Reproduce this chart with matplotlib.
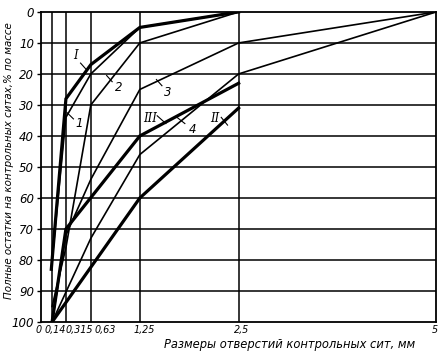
import matplotlib
matplotlib.use('Agg')
import matplotlib.pyplot as plt
from matplotlib.transforms import offset_copy

# размеры сит, мм
sieves = [0, 0.14, 0.315, 0.63, 1.25, 2.5, 5]
sieve_labels = ['0', '0,14', '0,315', '0,63', '1,25', '2,5', '5']

# кривые просеивания (полные остатки, %)
curve_I_x = [0.13, 0.315, 0.63, 1.25, 2.5]
curve_I_y = [83, 28, 17, 5, 0]
curve_II_x = [0.14, 1.25, 2.5]
curve_II_y = [100, 60, 31]
curve_III_x = [0.14, 0.315, 1.25, 2.5]
curve_III_y = [100, 70, 40, 23]

curve_1_x = [0.14, 0.315, 0.63, 1.25, 2.5]
curve_1_y = [80, 34, 20, 5, 0]
curve_2_x = [0.14, 0.315, 0.63, 1.25, 2.5]
curve_2_y = [95, 76, 30, 10, 0]
curve_3_x = [0.14, 0.315, 0.63, 1.25, 2.5, 5]
curve_3_y = [100, 72, 54, 25, 10, 0]
curve_4_x = [0.14, 0.63, 1.25, 2.5, 5]
curve_4_y = [100, 73, 46, 20, 0]

# подписи кривых: текст, положение текста, конец выноски
labels = ['I', '1', '2', '3', 'III', '4', 'II']
label_xy = [(0.44, 14), (0.48, 36), (0.98, 24.5), (1.6, 26), (1.38, 34.5), (1.92, 38), (2.2, 34.5)]
leader_from = [(0.50, 16.5), (0.41, 34.5), (0.90, 22.5), (1.53, 23.8), (1.47, 33.5), (1.82, 36), (2.28, 34)]
leader_to = [(0.57, 18.5), (0.33, 32.5), (0.83, 20.5), (1.46, 21.8), (1.58, 36), (1.72, 34), (2.36, 36.5)]

# сдвиг подписей сит (точки), как на рисунке
label_shift = [-1.5, 2, 9.5, 10.5, 3.5, 2, -1]

fig = plt.figure(figsize=(4.46, 3.56), dpi=100)
ax = fig.add_axes([0.092, 0.0955, 0.886, 0.871])

for x in sieves[1:-1]:
    ax.axvline(x, color='black', lw=1.1, zorder=1)
for y in range(10, 100, 10):
    ax.axhline(y, color='black', lw=1.1, zorder=1)

heavy = dict(color='black', lw=2.3, zorder=3, solid_joinstyle='miter')
thin = dict(color='black', lw=1.2, zorder=3)
ax.plot(curve_I_x, curve_I_y, **heavy)
ax.plot(curve_II_x, curve_II_y, **heavy)
ax.plot(curve_III_x, curve_III_y, **heavy)
ax.plot(curve_1_x, curve_1_y, **thin)
ax.plot(curve_2_x, curve_2_y, **thin)
ax.plot(curve_3_x, curve_3_y, **thin)
ax.plot(curve_4_x, curve_4_y, **thin)

for t, p, a, b in zip(labels, label_xy, leader_from, leader_to):
    fam = ['DejaVu Serif'] if 'I' in t else ['DejaVu Sans']
    ax.text(p[0], p[1], t, ha='center', va='center', fontsize=8.5,
            style='italic', family=fam, zorder=4)
    ax.plot([a[0], b[0]], [a[1], b[1]], color='black', lw=0.8, zorder=4)

ax.set_xlim(0, 5)
ax.set_ylim(100, 0)
ax.set_yticks(range(0, 101, 10))
ax.set_yticklabels([str(v) for v in range(0, 101, 10)], fontsize=8.5,
                   style='italic')
ax.set_xticks(sieves)
ax.set_xticklabels([])
ax.tick_params(axis='y', direction='out', length=3, width=1, pad=2)
ax.tick_params(axis='x', length=0)

xtrans = ax.get_xaxis_transform()
for x, lab, dx in zip(sieves, sieve_labels, label_shift):
    tr = offset_copy(xtrans, fig=fig, x=dx, y=-2, units='points')
    ax.text(x, 0, lab, transform=tr, ha='center', va='top', fontsize=6.9,
            style='italic')

for s in ax.spines.values():
    s.set_linewidth(1.3)

ax.set_xlabel('Размеры отверстий контрольных сит, мм', fontsize=8.3,
              style='italic')
ax.xaxis.set_label_coords(0.63, -0.05)
ax.set_ylabel('Полные остатки на контрольных ситах,% по массе', fontsize=7.4,
              style='italic')
ax.yaxis.set_label_coords(-0.068, 0.52)

fig.savefig('out.png', dpi=100)
